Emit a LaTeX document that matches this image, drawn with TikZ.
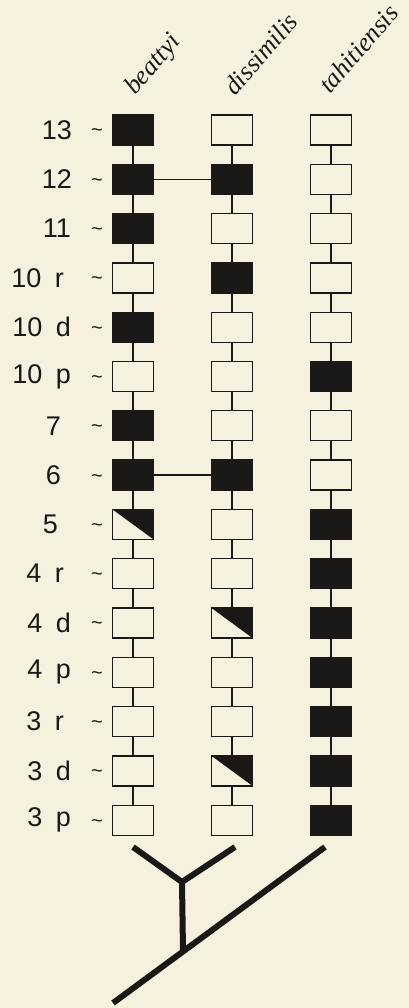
\documentclass[tikz,border=0pt]{standalone}
\usepackage{fontspec}
\setmainfont{Liberation Sans}
\newfontfamily\taxonfont{Liberation Serif}
\definecolor{paper}{RGB}{245,241,222}
\definecolor{ink}{RGB}{26,24,22}

\begin{document}
\begin{tikzpicture}[x=1pt,y=1pt,
  seg/.style={draw=ink,line width=1.3pt,minimum width=41pt,minimum height=30pt,inner sep=0pt},
  segfull/.style={seg,fill=ink},
  segopen/.style={seg,fill=paper},
  seghalf/.style={seg,fill=paper,path picture={\fill[ink] (path picture bounding box.north west)--(path picture bounding box.north east)--(path picture bounding box.south east)--cycle;}},
  chain/.style={draw=ink,line width=1.5pt},
  branch/.style={draw=ink,line width=6pt},
  rowlbl/.style={anchor=east,inner sep=0pt,text=ink,font=\fontsize{27}{27}\selectfont},
  tick/.style={inner sep=0pt,text=ink,font=\fontsize{20}{20}\selectfont},
  taxon/.style={anchor=base west,inner sep=0pt,rotate=49,text=ink,font=\taxonfont\itshape\fontsize{26}{26}\selectfont}]
  \fill[paper] (0,0) rectangle (409,-1008);
  \useasboundingbox (0,0) rectangle (409,-1008);
  % species
  \node[taxon] (beattyi) at (135,-96){beattyi};
  \node[taxon] (dissimilis) at (235,-97){dissimilis};
  \node[taxon] (tahitiensis) at (330,-95){tahitiensis};
  % segments, row by row
  \foreach \i/\lab/\lx/\sa/\sb/\sc in {
      0/13/72/segfull/segopen/segopen,
      1/12/72/segfull/segfull/segopen,
      2/11/71/segfull/segopen/segopen,
      3/10\enspace r/64/segopen/segfull/segopen,
      4/10\enspace d/71/segfull/segopen/segopen,
      5/10\enspace p/71/segopen/segopen/segfull,
      6/7/61/segfull/segopen/segopen,
      7/6/61/segfull/segfull/segopen,
      8/5/58/seghalf/segopen/segfull,
      9/4\enspace r/64/segopen/segopen/segfull,
      10/4\enspace d/71/segopen/seghalf/segfull,
      11/4\enspace p/71/segopen/segopen/segfull,
      12/3\enspace r/64/segopen/segopen/segfull,
      13/3\enspace d/71/segopen/seghalf/segfull,
      14/3\enspace p/71/segopen/segopen/segfull}{
    \node[rowlbl] (l\i) at (\lx,{-130-49.3*\i}){\lab};
    \node[tick] (t\i) at (97,{-133-49.3*\i}){\textasciitilde};
    \node[\sa] (a\i) at (133,{-130-49.3*\i}){};
    \node[\sb] (b\i) at (232,{-130-49.3*\i}){};
    \node[\sc] (c\i) at (331,{-130-49.3*\i}){};
  }
  \foreach \i [count=\j] in {0,...,13}
    \foreach \col in {a,b,c}
      \draw[chain] (\col\i.south)--(\col\j.north);
  \draw[chain] (a1.east)--(b1.west);
  \draw[chain] (a7.east)--(b7.west);
  % tree
  \coordinate (ta) at (133,-847);
  \coordinate (tb) at (235,-847);
  \coordinate (tc) at (325,-847);
  \coordinate (fork) at (182,-882);
  \coordinate (join) at (183,-951);
  \coordinate (root) at (113,-1003);
  \draw[branch] (ta)--(fork)--(tb);
  \draw[branch] (fork)--(join);
  \draw[branch] (tc)--(root);
\end{tikzpicture}
\end{document}
